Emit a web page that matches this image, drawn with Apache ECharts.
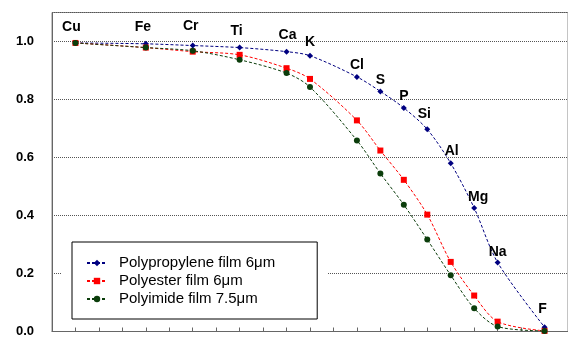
<!DOCTYPE html>
<html><head><meta charset="utf-8">
<script src="https://cdn.jsdelivr.net/npm/echarts@6/dist/echarts.min.js"></script>
<style>html,body{margin:0;padding:0;background:#fff}#c{width:568px;height:338px}</style>
</head><body><div id="c"></div>
<script>
const elements = ['Cu','Fe','Cr','Ti','Ca','K','Cl','S','P','Si','Al','Mg','Na','F'];
const positions = [1,4,6,8,10,11,13,14,15,16,17,18,19,21];
const polypropylene = [0.995,0.992,0.986,0.979,0.965,0.951,0.878,0.828,0.771,0.697,0.580,0.426,0.238,0.015];
const polyester = [0.995,0.979,0.965,0.954,0.908,0.871,0.728,0.624,0.523,0.403,0.240,0.124,0.034,0.002];
const polyimide = [0.995,0.979,0.968,0.937,0.891,0.843,0.659,0.545,0.437,0.317,0.194,0.080,0.017,0.002];
const seriesNames = ['Polypropylene film 6\u03bcm','Polyester film 6\u03bcm','Polyimide film 7.5\u03bcm'];
const yTicks = [0, 0.2, 0.4, 0.6, 0.8, 1.0];

const labelDx = [-4,-3,-2,-3,1,0,0,0,0,-3,1,4,0,-2];
const labelDy = [-16,-16.5,-19,-16,-16.7,-13.3,-11.7,-11.7,-11.7,-15,-12.3,-10.7,-10.7,-18];
const FONT = '"Liberation Sans", Arial, sans-serif';

function pts(vals, withLabels) {
  return vals.map((v, i) => {
    const d = { name: elements[i], value: [positions[i], v] };
    if (withLabels) d.label = { offset: [labelDx[i], labelDy[i]] };
    return d;
  });
}

const chart = echarts.init(document.getElementById('c'), null, { renderer: 'canvas' });
chart.setOption({
  animation: false,
  backgroundColor: '#fff',
  grid: { left: 52, right: -12, top: 12.5, bottom: 4.7, show: true, borderColor: '#888', borderWidth: 1, backgroundColor: 'transparent' },
  xAxis: {
    type: 'value', min: 0, max: 22, interval: 1,
    axisLine: { show: true, lineStyle: { color: '#666', width: 1 } },
    axisTick: { show: true, inside: true, length: 4, lineStyle: { color: '#666' } },
    axisLabel: { show: false },
    splitLine: { show: false }
  },
  yAxis: {
    type: 'value', min: 0, max: 1.1, interval: 0.2,
    axisLine: { show: true, lineStyle: { color: '#666', width: 1 } },
    axisTick: { show: false },
    axisLabel: {
      margin: 18, fontFamily: FONT, fontSize: 13, fontWeight: 'bold', color: '#000',
      formatter: v => yTicks.some(t => Math.abs(t - v) < 1e-6) ? v.toFixed(1) : ''
    },
    splitLine: { show: true, lineStyle: { color: '#555', type: [1, 1], width: 1 } }
  },
  legend: {
    orient: 'vertical', left: 72, top: 242, height: 90,
    padding: [12, 42, 11, 14], itemGap: 0, itemWidth: 20, itemHeight: 8,
    borderColor: '#000', borderWidth: 1, backgroundColor: '#fff',
    textStyle: { fontFamily: FONT, fontSize: 15, lineHeight: 18, color: '#000', padding: [0, 0, 0, 7] },
    data: seriesNames
  },
  graphic: [{
    type: 'rect', z: 3, silent: true,
    shape: { x: 62, y: 270, width: 266, height: 10 },
    style: { fill: '#fff' }
  }],
  series: [
    {
      name: seriesNames[0], type: 'line', data: pts(polypropylene, true),
      smooth: 0.3, symbol: 'diamond', symbolSize: 6,
      itemStyle: { color: '#000080' },
      lineStyle: { color: '#000080', width: 1, type: [3, 2] },
      label: { show: true, position: 'inside', formatter: p => p.name,
        fontFamily: FONT, fontSize: 14, fontWeight: 'bold', color: '#000' },
      z: 2
    },
    {
      name: seriesNames[1], type: 'line', data: pts(polyester, false),
      smooth: 0.3, symbol: 'rect', symbolSize: 6,
      itemStyle: { color: '#ff0000' },
      lineStyle: { color: '#ff0000', width: 1, type: [3, 2] },
      z: 3
    },
    {
      name: seriesNames[2], type: 'line', data: pts(polyimide, false),
      smooth: 0.3, symbol: 'circle', symbolSize: 6,
      itemStyle: { color: '#0b3d0b' },
      lineStyle: { color: '#0b3d0b', width: 1, type: [3, 2] },
      z: 4
    }
  ]
});
</script></body></html>
